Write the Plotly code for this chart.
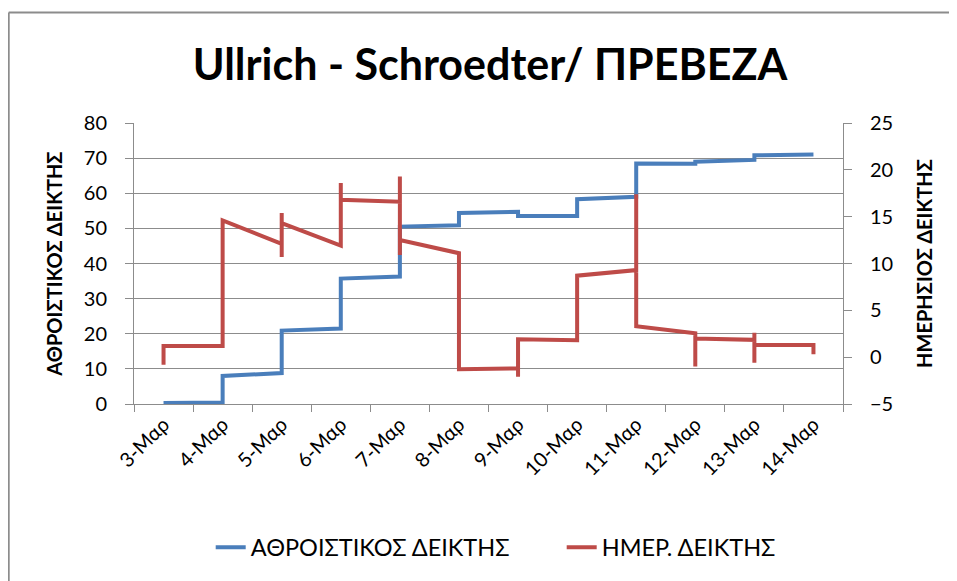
import plotly.graph_objects as go

days = ["3-Μαρ", "4-Μαρ", "5-Μαρ", "6-Μαρ", "7-Μαρ", "8-Μαρ",
        "9-Μαρ", "10-Μαρ", "11-Μαρ", "12-Μαρ", "13-Μαρ", "14-Μαρ"]

# readings per day (several readings fall on the same day position)
cumulative_readings = [
    [0.3], [0.45, 8.0], [8.8, 20.9], [21.5, 35.7], [36.3, 50.5], [50.9, 54.4],
    [54.7, 53.5], [53.5, 58.3], [59.0, 68.5], [68.4, 69.0], [69.5, 70.8], [71.0],
]
daily_readings = [
    [-0.8, 1.2], [1.2, 14.6], [12.1, 10.7, 15.4, 14.3], [11.9, 18.6, 16.8],
    [16.6, 19.3, 10.9, 12.5], [11.1, -1.3], [-1.2, -2.1, 1.9], [1.8, 8.7],
    [9.3, 17.4, 3.3], [2.55, -1.0, 2.0], [1.85, 2.6, -0.6, 1.3], [1.3, 0.3],
]

series1_name = "ΑΘΡΟΙΣΤΙΚΟΣ ΔΕΙΚΤΗΣ"
series2_name = "ΗΜΕΡ. ΔΕΙΚΤΗΣ"
title_text = "Ullrich - Schroedter/ ΠΡΕΒΕΖΑ"
left_title = "ΑΘΡΟΙΣΤΙΚΟΣ ΔΕΙΚΤΗΣ"
right_title = "ΗΜΕΡΗΣΙΟΣ ΔΕΙΚΤΗΣ"


def expand(readings):
    xs, ys = [], []
    for d, vals in zip(days, readings):
        for v in vals:
            xs.append(d)
            ys.append(v)
    return xs, ys


x1, y1 = expand(cumulative_readings)
x2, y2 = expand(daily_readings)

FONT = "Lato, 'Noto Sans', sans-serif"
BLUE = "#4A7EBB"
RED = "#BE4B48"
GRID = "#8C8C8C"

# page body has an 8px margin: work in screen coords minus that offset
OFF = 8
W, H = 957 - OFF, 581 - OFF
PL, PR, PT, PB = 134.3 - OFF, 843.3 - OFF, 122.7 - OFF, 404.3 - OFF
ml, mr, mt, mb = PL, W - PR, PT, H - PB
pw, ph = PR - PL, PB - PT


def px_x(sx):
    return (sx - OFF - PL) / pw


def px_y(sy):
    return (PB - (sy - OFF)) / ph


fig = go.Figure()
fig.add_trace(go.Scatter(x=x1, y=y1, name=series1_name, mode="lines",
                         line=dict(color=BLUE, width=4), yaxis="y",
                         legend="legend"))
fig.add_trace(go.Scatter(x=x2, y=y2, name=series2_name, mode="lines",
                         line=dict(color=RED, width=4), yaxis="y2",
                         legend="legend2"))

fig.update_layout(
    width=W, height=H,
    margin=dict(l=ml, r=mr, t=mt, b=mb, pad=0, autoexpand=False),
    paper_bgcolor="white", plot_bgcolor="white",
    font=dict(family=FONT, color="black", size=20),
    title=dict(text="<b>" + title_text + "</b>", x=(490 - OFF) / W,
               xref="container", xanchor="center", y=1 - (65 - OFF) / H,
               yanchor="middle", font=dict(size=43, family=FONT)),
    xaxis=dict(type="category", categoryorder="array", categoryarray=days,
               range=[-0.5, len(days) - 0.5], tickson="boundaries",
               ticks="outside", ticklen=7, tickcolor=GRID, tickwidth=1,
               showline=True, linecolor=GRID, linewidth=1, automargin=False,
               showgrid=False, tickangle=-45,
               tickfont=dict(size=20, family=FONT)),
    yaxis=dict(range=[0, 80], dtick=10, ticks="outside", ticklen=8,
               tickcolor=GRID, showline=True, linecolor=GRID, automargin=False,
               showgrid=True, gridcolor=GRID, gridwidth=1, zeroline=False,
               ticklabelstandoff=14,
               title=dict(text="<b>" + left_title + "</b>", standoff=15,
                          font=dict(size=20, family=FONT)),
               tickfont=dict(size=20, family=FONT)),
    yaxis2=dict(range=[-5, 25], dtick=5, overlaying="y", side="right",
                ticks="outside", ticklen=8, tickcolor=GRID, showline=True,
                linecolor=GRID, showgrid=False, zeroline=False, automargin=False,
                ticklabelstandoff=14,
                title=dict(text="<b>" + right_title + "</b>", standoff=25,
                           font=dict(size=20, family=FONT)),
                tickfont=dict(size=20, family=FONT)),
    legend=dict(orientation="h", x=px_x(211), xanchor="left",
                y=px_y(548), yanchor="middle",
                font=dict(size=23.5, family=FONT), bgcolor="rgba(0,0,0,0)"),
    legend2=dict(orientation="h", x=px_x(562), xanchor="left",
                 y=px_y(548), yanchor="middle",
                 font=dict(size=23.5, family=FONT), bgcolor="rgba(0,0,0,0)"),
    showlegend=True,
)

# chart-area frame (only left and top edges are visible in the crop)
frame = dict(color="#8C8C8C", width=2)
fig.add_shape(type="line", xref="paper", yref="paper",
              x0=px_x(9), x1=px_x(9), y0=px_y(700), y1=px_y(12), line=frame)
fig.add_shape(type="line", xref="paper", yref="paper",
              x0=px_x(9), x1=px_x(1200), y0=px_y(12), y1=px_y(12), line=frame)

fig.write_html("out.html")
